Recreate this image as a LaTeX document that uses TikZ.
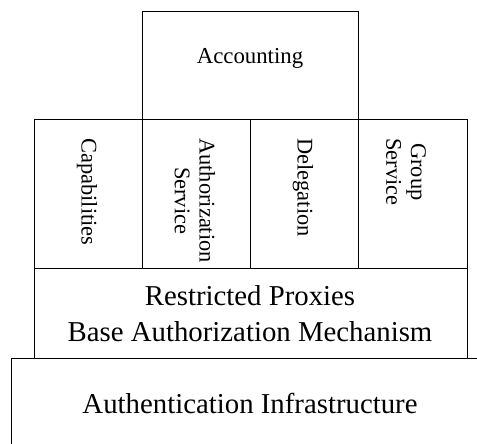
\documentclass[tikz,border=0pt]{standalone}
\usepackage{fontspec}
\setmainfont{Liberation Serif}
\begin{document}
\begin{tikzpicture}[x=0.5pt,y=-0.5pt,
  layer/.style={draw=black,line width=0.6pt,rectangle,inner sep=0pt,anchor=north west},
  vlabel/.style={rotate=-90,anchor=west,inner sep=0pt,align=center,font=\fontsize{11.2pt}{12.4pt}\selectfont},
  biglabel/.style={inner sep=0pt,align=center,font=\fontsize{14.4pt}{18pt}\selectfont}]
\useasboundingbox (0,0) rectangle (477,444);
\begin{scope}
\clip (0,0) rectangle (477,444);
\node[layer,minimum width=240pt,minimum height=50pt] (authn) at (11,358) {};
\end{scope}
\node[layer,minimum width=108pt,minimum height=54pt] (acc) at (142,11) {};
\node[layer,minimum width=54pt,minimum height=74.5pt] (cap) at (34,119) {};
\node[layer,minimum width=54pt,minimum height=74.5pt] (authz) at (142,119) {};
\node[layer,minimum width=54pt,minimum height=74.5pt] (deleg) at (250,119) {};
\node[layer,minimum width=54.5pt,minimum height=74.5pt] (group) at (358,119) {};
\node[layer,minimum width=216.5pt,minimum height=45pt] (rp) at (34,268) {};
\node[inner sep=0pt,anchor=base,font=\fontsize{11.4pt}{13pt}\selectfont] (accl) at (250,64) {Accounting};
\node[vlabel] (capl) at (87,138) {Capabilities};
\node[vlabel] (authzl) at (195,138) {Authorization\\Service};
\node[vlabel] (delegl) at (303,138) {Delegation};
\node[vlabel] (groupl) at (406,138) {Group\\Service};
\node[biglabel] (rpl) at (250,314) {Restricted Proxies\\Base Authorization Mechanism};
\node[biglabel,anchor=base] (authnl) at (250,413) {Authentication Infrastructure};
\end{tikzpicture}
\end{document}
